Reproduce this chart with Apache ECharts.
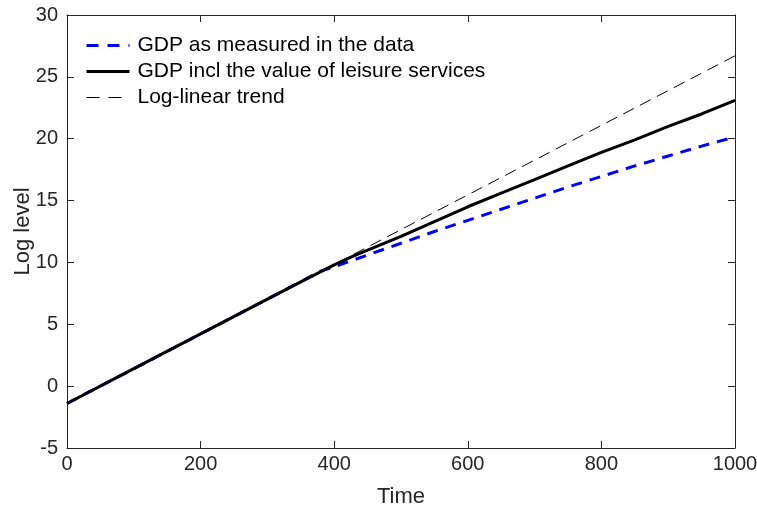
<!DOCTYPE html>
<html>
<head>
<meta charset="utf-8">
<script src="https://cdn.jsdelivr.net/npm/echarts@6/dist/echarts.min.js"></script>
<style>html,body{margin:0;padding:0;background:#fff}#c{width:757px;height:507px}</style>
</head>
<body>
<div id="c"></div>
<script>
var seriesNames = ['GDP as measured in the data', 'GDP incl the value of leisure services', 'Log-linear trend'];
var measuredT = [0, 100, 200, 300, 380, 400, 450, 500, 550, 600, 650, 700, 750, 800, 850, 900, 950, 1000];
var measuredY = [-1.4, 1.41, 4.22, 7.03, 9.3, 9.65, 10.6, 11.55, 12.5, 13.4, 14.3, 15.2, 16.1, 16.95, 17.8, 18.6, 19.4, 20.15];
var leisureT = [0, 100, 200, 300, 350, 400, 425, 450, 500, 550, 600, 650, 700, 750, 800, 850, 900, 950, 1000];
var leisureY = [-1.4, 1.41, 4.22, 7.03, 8.43, 9.8, 10.42, 11.0, 12.1, 13.3, 14.5, 15.6, 16.7, 17.8, 18.9, 19.9, 21.0, 22.0, 23.1];
var trendT = [0, 100, 200, 300, 400, 500, 600, 700, 800, 900, 1000];
var trendY = [-1.4, 1.41, 4.22, 7.03, 9.84, 12.65, 15.46, 18.27, 21.08, 23.89, 26.7];
var xTicks = [0, 200, 400, 600, 800, 1000];
var yTicks = [-5, 0, 5, 10, 15, 20, 25, 30];

function pairs(t, y) { return t.map(function (v, i) { return [v, y[i]]; }); }

var axisCol = '#262626';
var font = 'Liberation Sans, Arial, Helvetica, sans-serif';
var chart = echarts.init(document.getElementById('c'));
chart.setOption({
  animation: false,
  backgroundColor: '#fff',
  grid: { left: 67, right: 22, top: 15, bottom: 59, containLabel: false, outerBoundsMode: 'none' },
  legend: {
    orient: 'vertical', left: 80, top: 30, itemWidth: 43, itemHeight: 14, itemGap: 5,
    data: [
      { name: seriesNames[0], lineStyle: { width: 3, type: [12, 9] } },
      { name: seriesNames[1], lineStyle: { width: 3 } },
      { name: seriesNames[2], lineStyle: { width: 1, type: [13, 9] } }
    ],
    itemStyle: { opacity: 0 },
    textStyle: { fontFamily: font, fontSize: 21, color: '#000', padding: [0, 0, 0, 3] }
  },
  xAxis: [{
    type: 'value', min: 0, max: 1000, interval: 200,
    name: 'Time', nameLocation: 'middle', nameGap: 38, nameMoveOverlap: false,
    nameTextStyle: { fontFamily: font, fontSize: 22, color: axisCol },
    axisLine: { show: true, onZero: false, lineStyle: { color: axisCol, width: 1 } },
    axisTick: { show: true, inside: true, length: 7, lineStyle: { color: axisCol } },
    axisLabel: { fontFamily: font, fontSize: 20, color: axisCol, margin: 6,
      formatter: function (v) { return xTicks.indexOf(v) >= 0 ? String(v) : ''; } },
    splitLine: { show: false }
  }, {
    type: 'value', min: 0, max: 1000, interval: 200, position: 'top',
    axisLine: { show: true, onZero: false, lineStyle: { color: axisCol, width: 1 } },
    axisTick: { show: true, inside: true, length: 7, lineStyle: { color: axisCol } },
    axisLabel: { show: false }, splitLine: { show: false }
  }],
  yAxis: [{
    type: 'value', min: -5, max: 30, interval: 5,
    name: 'Log level', nameLocation: 'middle', nameGap: 33, nameMoveOverlap: false,
    nameTextStyle: { fontFamily: font, fontSize: 22, color: axisCol },
    axisLine: { show: true, onZero: false, lineStyle: { color: axisCol, width: 1 } },
    axisTick: { show: true, inside: true, length: 7, lineStyle: { color: axisCol } },
    axisLabel: { fontFamily: font, fontSize: 20, color: axisCol, margin: 9,
      formatter: function (v) { return yTicks.indexOf(v) >= 0 ? String(v) : ''; } },
    splitLine: { show: false }
  }, {
    type: 'value', min: -5, max: 30, interval: 5, position: 'right',
    axisLine: { show: true, onZero: false, lineStyle: { color: axisCol, width: 1 } },
    axisTick: { show: true, inside: true, length: 7, lineStyle: { color: axisCol } },
    axisLabel: { show: false }, splitLine: { show: false }
  }],
  series: [{
    name: seriesNames[0], type: 'line', data: pairs(measuredT, measuredY),
    showSymbol: false, symbol: 'none', z: 2,
    color: '#0000ff',
    lineStyle: { color: '#0000ff', width: 3, type: [11, 8] }
  }, {
    name: seriesNames[1], type: 'line', data: pairs(leisureT, leisureY),
    showSymbol: false, symbol: 'none', z: 3,
    color: '#000',
    lineStyle: { color: '#000', width: 3, type: 'solid' }
  }, {
    name: seriesNames[2], type: 'line', data: pairs(trendT, trendY),
    showSymbol: false, symbol: 'none', z: 4,
    color: '#000',
    lineStyle: { color: '#000', width: 1, type: [12, 7] }
  }]
});
</script>
</body>
</html>
